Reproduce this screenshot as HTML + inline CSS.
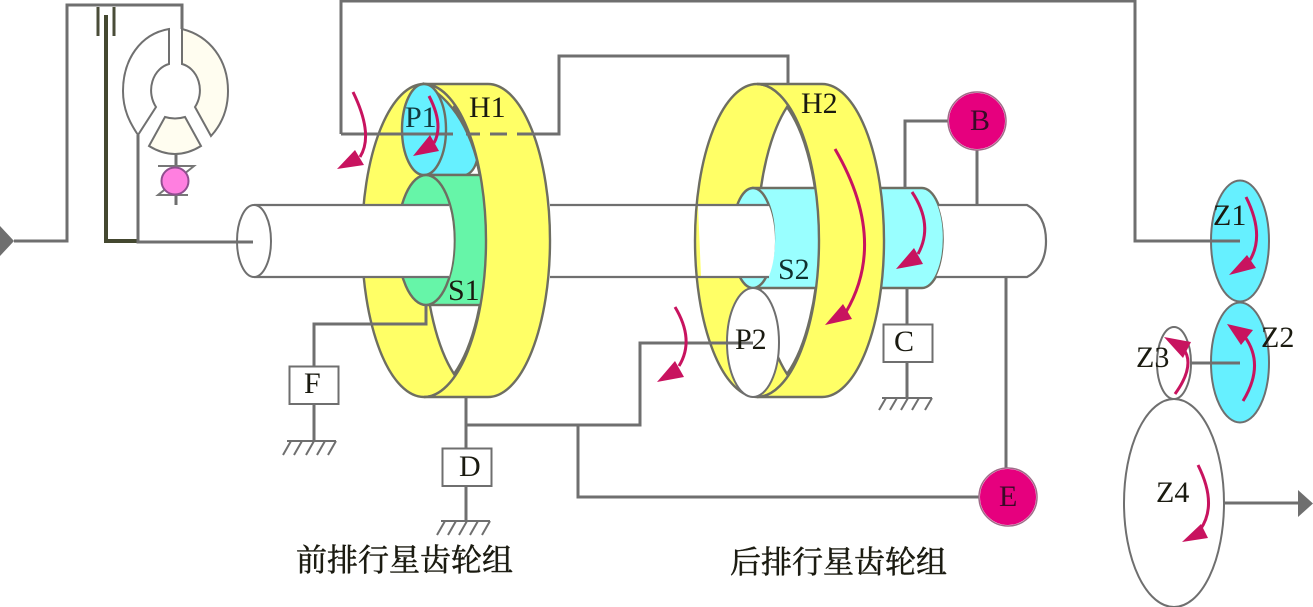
<!DOCTYPE html>
<html><head><meta charset="utf-8"><style>
html,body{margin:0;padding:0;background:#fff;width:1313px;height:607px;overflow:hidden}
svg{display:block}
text{font-family:"Liberation Serif","Noto Serif CJK SC",serif;font-size:30px;fill:#1a1a10}
.c{font-size:31px;stroke:#1a1a10;stroke-width:.5}
.g{fill:none;stroke:#6f6f6f;stroke-width:3}
.o{stroke:#6e6e62;stroke-width:2.4}
.t{stroke:#707070;stroke-width:2;fill:#fff}
.a{fill:none;stroke:#c8135f;stroke-width:3}
.h{fill:#c8135f}
.k{stroke:#6f6f6f;stroke-width:2}
.n{fill:none}
</style></head><body>
<svg width="1313" height="607" viewBox="0 0 1313 607" xmlns="http://www.w3.org/2000/svg">
<!-- left input -->
<path d="M0,226 L14,241 L0,256Z" fill="#6f6f6f"/>
<path class="g" d="M14,241 H67 V5 H182 V29"/>
<path d="M98,7 V36 M114,7 V36" stroke="#4a4d38" stroke-width="3" fill="none"/>
<path d="M106,15 V241 H138" stroke="#444830" stroke-width="4" fill="none"/>
<path class="g" d="M138,135 V242 H253"/>
<!-- torque converter -->
<path class="t" d="M169,29 V64 A23,27 0 0 0 156,107 L138,135 C130,123 123,110 123,91 C123,60 140,34 169,29Z"/>
<path class="t" style="fill:#fffdf0" d="M182,29 V64 A23,27 0 0 1 195,107 L211,136 C222,124 228,110 228,91 C228,60 210,36 182,29Z"/>
<path class="t" style="fill:#fffdf0" d="M165,117 Q175,120 185,117 L201,146 Q175,162 149,146Z"/>
<path class="g" d="M176,154 V205"/>
<path d="M158,166 H194 L158,195 H188" fill="none" stroke="#777" stroke-width="2"/>
<circle cx="175" cy="181" r="13.5" fill="#ff7fe0" stroke="#8f4f8f" stroke-width="2"/>

<!-- ring 1 back -->
<ellipse cx="424" cy="240.5" rx="62" ry="156.5" fill="#ffff66" class="o"/>
<path d="M454,374 A62,156.5 0 0 1 454,107 A62,156.5 0 0 1 486,240 A62,156.5 0 0 1 454,374Z" fill="#fff" class="o"/>
<!-- P1 band -->
<path d="M424,84 Q462,105 477,160 Q474,172 466,175 H424Z" fill="#66f0ff" class="o"/>
<!-- S1 sleeve -->
<rect x="426" y="175" width="62" height="130" fill="#66f5a8" class="o"/>
<!-- ring 1 front band -->
<path d="M424,84 H488 A62,156.5 0 0 1 488,397 H424 A62,156.5 0 0 0 424,84Z" fill="#ffff66" class="o"/>
<ellipse cx="424" cy="129.5" rx="22" ry="45.5" fill="#66f0ff" class="o"/>
<ellipse cx="426" cy="240" rx="28.5" ry="65" fill="#66f5a8" class="o"/>
<!-- shaft -->
<path d="M254,205 H449 A28,65 0 0 1 449,277 H254Z" fill="#fff"/>
<path class="k n" style="stroke-width:2.2" d="M254,205 H449 M254,277 H449"/>
<ellipse cx="254" cy="241" rx="17" ry="36" class="k" fill="#fff"/>
<path class="g" d="M237,242 H253"/>

<!-- ring 2 -->
<ellipse cx="757" cy="240.500" rx="62" ry="156.5" fill="#ffff66" class="o"/>
<path d="M787,374 A62,156.5 0 0 1 787,107 A62,156.5 0 0 1 819,240 A62,156.5 0 0 1 787,374Z" fill="#fff" class="o"/>
<!-- S2 sleeve -->
<path d="M753,188 H922 A22,50 0 0 1 922,288 H753Z" fill="#99ffff" class="o"/>
<path d="M757,84 H822 A62,156.5 0 0 1 822,397 H757 A62,156.5 0 0 0 757,84Z" fill="#ffff66" class="o"/>
<ellipse cx="753" cy="238" rx="21" ry="50" fill="#99ffff" class="o"/>
<!-- shaft mid -->
<path d="M698,206 H769 A21,50 0 0 1 769,276 H701Z" fill="#fff"/>
<path class="k n" style="stroke-width:2.2" d="M550,205 H769 M550,277 H769"/>
<ellipse cx="753" cy="342.5" rx="26" ry="54.5" fill="#fff" class="k"/>
<!-- shaft right -->
<path d="M938,205 H1027 Q1046,215 1046,241 Q1046,267 1027,277 H936 A22,50 0 0 0 938,205Z" fill="#fff"/>
<path class="k n" style="stroke-width:2.2" d="M938,205 H1027 Q1046,215 1046,241 Q1046,267 1027,277 H936"/>

<!-- connections -->
<path class="g" d="M341,134 H453 M533,134 H559 V56 H788 V84"/>
<path class="g" d="M466,134 H480 M490,134 H507 M517,134 H533"/>
<path class="g" d="M341,134 V1 H1135 V241 H1240"/>
<path class="g" d="M905,188 V121 H950 M977,146 V205"/>
<path class="g" d="M1006,277 V470 M578,426 V497 H980"/>
<path class="g" d="M426,305 V324 H314 V366 M314,404 V441"/>
<path class="g" d="M466,397 V448 M466,486 V521 M466,425 H640 V343 H753"/>
<path class="g" d="M907,288 V324 M907,362 V398"/>
<!-- boxes -->
<rect x="289.500" y="366.500" width="49" height="37.500" fill="#fff" class="k"/>
<rect x="442.500" y="448.500" width="49" height="37.500" fill="#fff" class="k"/>
<rect x="883.500" y="324.500" width="49" height="37.500" fill="#fff" class="k"/>
<!-- grounds -->
<path class="k n" d="M287,441 H336 M291,441 L283,455 M302,441 L294,455 M314,441 L306,455 M325,441 L317,455 M336,441 L328,455"/>
<path class="k n" d="M441,521 H490 M445,521 L437,535 M456,521 L448,535 M467,521 L459,535 M478,521 L470,535 M490,521 L482,535"/>
<path class="k n" d="M882,398 H932 M886,398 L879,410 M897,398 L890,410 M908,398 L901,410 M919,398 L912,410 M932,398 L925,410"/>
<!-- brakes -->
<circle cx="977" cy="121" r="28.500" fill="#e6007e" stroke="#fff" stroke-width="1"/>
<circle cx="977" cy="121" r="29" fill="none" stroke="#a06a88" stroke-width="1.500"/>
<circle cx="1008" cy="497" r="28.500" fill="#e6007e" stroke="#fff" stroke-width="1"/>
<circle cx="1008" cy="497" r="29" fill="none" stroke="#a06a88" stroke-width="1.500"/>

<!-- right gears -->
<ellipse cx="1240" cy="241" rx="29" ry="60.500" fill="#66f0ff" class="k"/>
<ellipse cx="1240" cy="362.500" rx="29" ry="60" fill="#66f0ff" class="k"/>
<ellipse cx="1174" cy="363" rx="17" ry="36" fill="#fff" class="k"/>
<ellipse cx="1174" cy="503" rx="50" ry="104" fill="#fff" class="k"/>
<path class="g" d="M1135,241 H1240 M1191,363 H1240 M1224,503 H1300"/>
<path d="M1298,490 L1313,503.500 L1298,517Z" fill="#6f6f6f"/>

<!-- arrows -->
<path class="a" d="M353,92 Q374,135 360,157"/><path class="h" d="M337,169 L355,150 L364,165Z"/>
<path class="a" d="M429,96 Q444,125 434,143"/><path class="h" d="M413,156 L430,135 L439,151Z"/>
<path class="a" d="M835,149 Q888,240 846,312"/><path class="h" d="M825,325 L843,304 L852,319Z"/>
<path class="a" d="M912,192 Q934,225 918,254"/><path class="h" d="M896,269 L914,248 L923,264Z"/>
<path class="a" d="M675,307 Q695,340 679,366"/><path class="h" d="M657,382 L675,361 L684,377Z"/>
<path class="a" d="M1246,197 Q1265,235 1250,260"/><path class="h" d="M1229,275 L1247,255 L1256,268Z"/>
<path class="a" d="M1243,401 Q1265,365 1245,337"/><path class="h" d="M1227,324 L1253,330 L1241,345Z"/>
<path class="a" d="M1175,394 Q1196,365 1183,348"/><path class="h" d="M1164,337 L1191,342 L1183,358Z"/>
<path class="a" d="M1198,465 Q1218,505 1200,530"/><path class="h" d="M1182,542 L1201,524 L1208,538Z"/>

<!-- labels -->
<text x="469" y="117">H1</text>
<text x="405" y="127" style="fill:#123a40">P1</text>
<text x="448" y="300">S1</text>
<text x="801" y="113">H2</text>
<text x="778" y="279" style="fill:#10302f">S2</text>
<text x="735" y="349">P2</text>
<text x="970" y="130" style="fill:#3a0a28">B</text>
<text x="894" y="351">C</text>
<text x="304" y="393">F</text>
<text x="459" y="476">D</text>
<text x="999" y="506" style="fill:#3a0a28">E</text>
<text x="1213" y="225">Z1</text>
<text x="1261" y="347">Z2</text>
<text x="1136" y="367">Z3</text>
<text x="1156" y="502">Z4</text>
<text class="c" x="296" y="571">前排行星齿轮组</text>
<text class="c" x="730" y="573">后排行星齿轮组</text>
</svg>
</body></html>
